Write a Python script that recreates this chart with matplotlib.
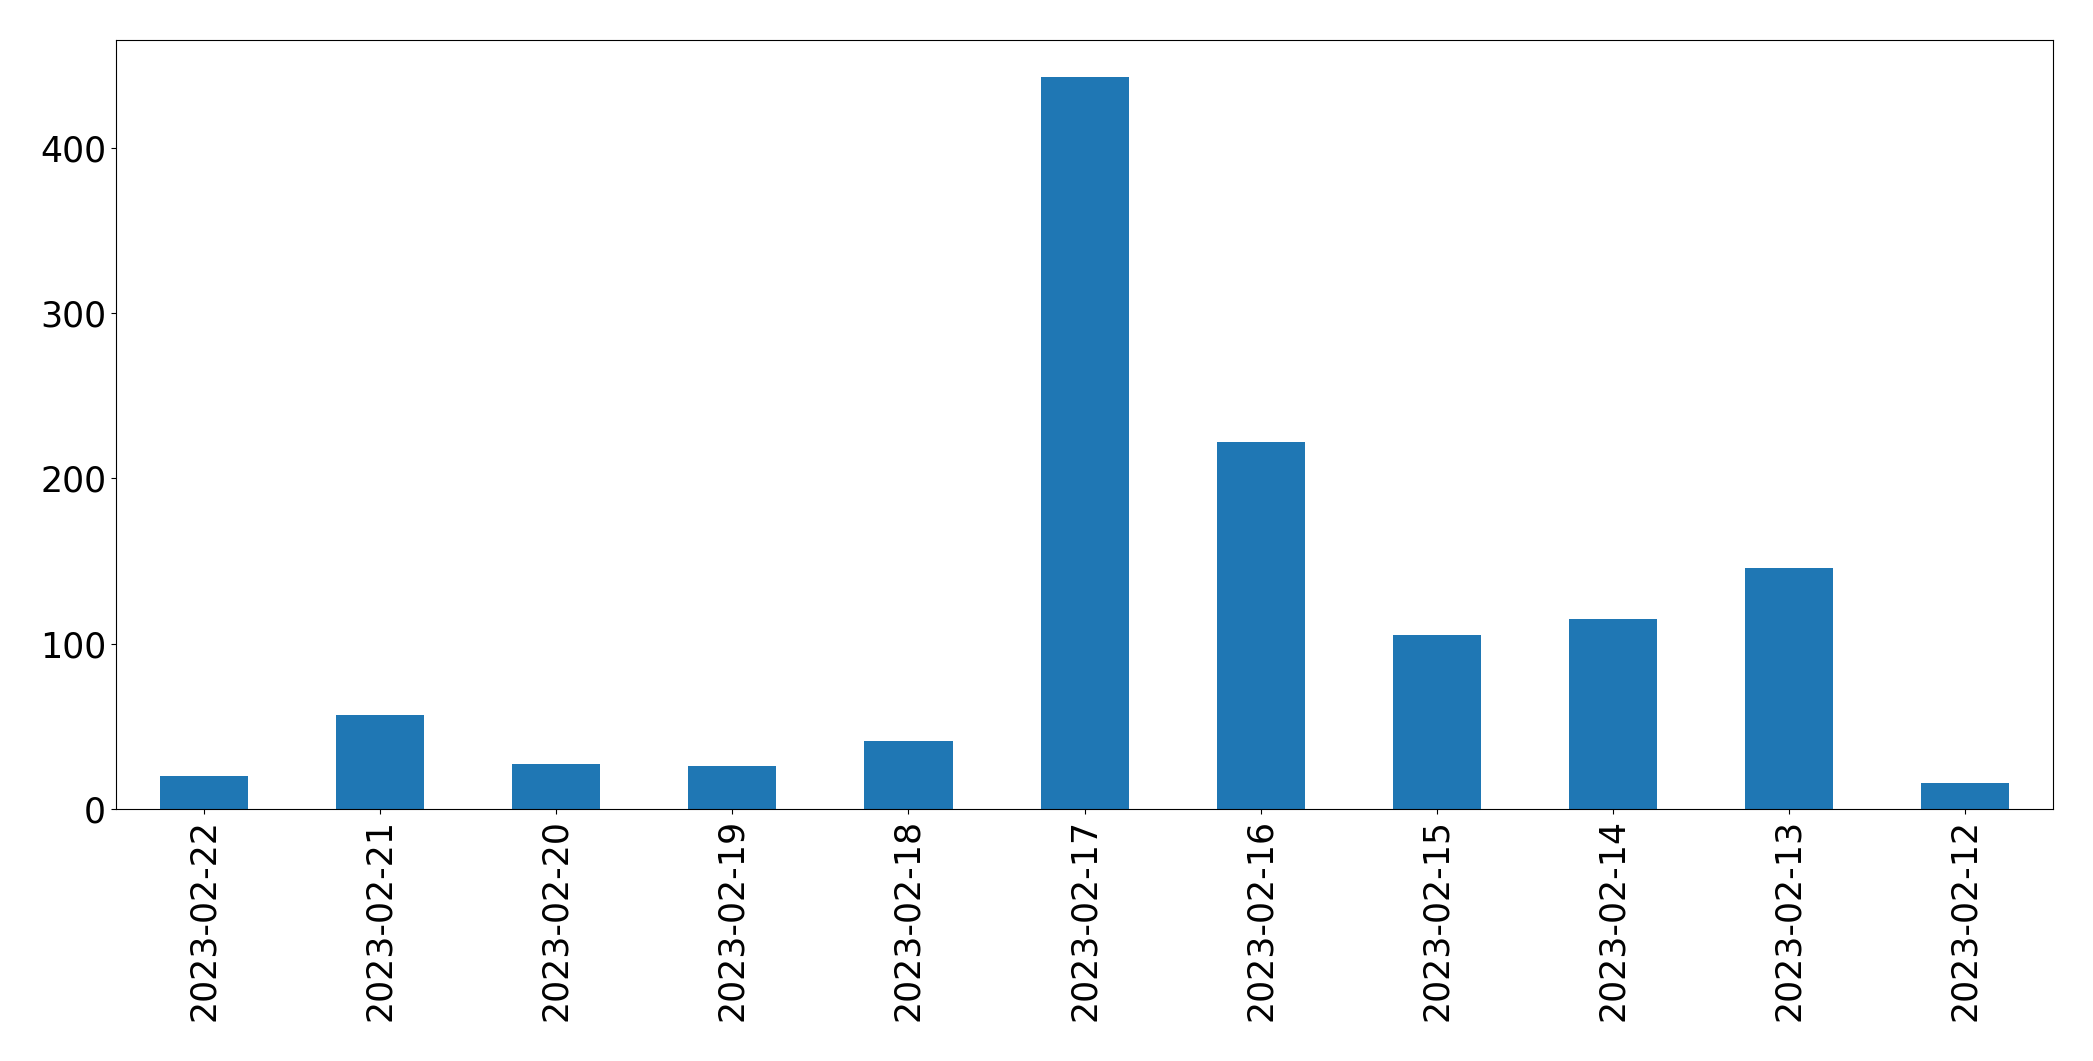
import numpy as np
import matplotlib
matplotlib.use("Agg")
import matplotlib.pyplot as plt

# daily counts, newest first (as in the original)
dates = ["2023-02-22", "2023-02-21", "2023-02-20", "2023-02-19", "2023-02-18",
         "2023-02-17", "2023-02-16", "2023-02-15", "2023-02-14", "2023-02-13",
         "2023-02-12"]
counts = [20, 57, 27, 26, 41, 443, 222, 105, 115, 146, 16]

fig = plt.figure(figsize=(20.93, 10.61), dpi=100)
ax = fig.add_subplot(111)
fig.subplots_adjust(left=0.0554, right=0.981, top=0.962, bottom=0.2375)

x = np.arange(len(dates))
ax.bar(x, counts, width=0.5, color="#1f77b4")
ax.set_xlim(-0.5, len(dates) - 0.5)
ax.set_xticks(x)
ax.set_xticklabels(dates, rotation=90)
ax.tick_params(axis="both", labelsize=25)

fig.savefig("out.png", dpi=100)
